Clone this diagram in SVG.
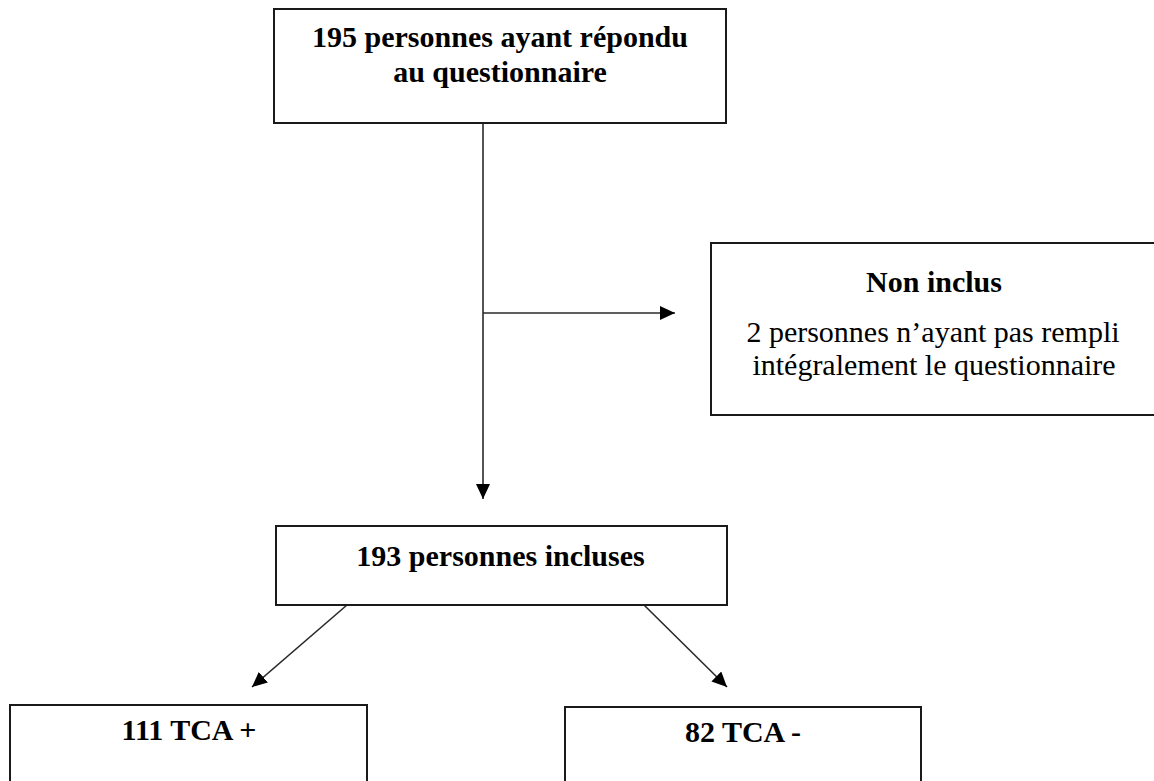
<svg xmlns="http://www.w3.org/2000/svg" width="1154" height="781" viewBox="0 0 1154 781">
  <style>
    .box { fill: #ffffff; stroke: #1a1a1a; stroke-width: 2; }
    .t { font-family: "Liberation Serif", "Times New Roman", serif; font-size: 30px; fill: #000000; text-anchor: middle; }
    .b { font-weight: bold; }
    .conn { stroke: #2a2a2a; stroke-width: 1.6; fill: none; }
  </style>
  <defs>
    <marker id="arrow" markerUnits="userSpaceOnUse" markerWidth="16" markerHeight="14" refX="15" refY="7" orient="auto">
      <path d="M0,0 L15,7 L0,14 Z" fill="#000000"/>
    </marker>
  </defs>
  <rect width="1154" height="781" fill="#ffffff"/>

  <g id="connectors">
    <line class="conn" x1="483" y1="123" x2="483" y2="499" marker-end="url(#arrow)"/>
    <line class="conn" x1="483" y1="313" x2="675" y2="313" marker-end="url(#arrow)"/>
    <line class="conn" x1="347" y1="605" x2="252" y2="687" marker-end="url(#arrow)"/>
    <line class="conn" x1="644" y1="605" x2="727" y2="687" marker-end="url(#arrow)"/>
  </g>

  <g id="node-repondants">
    <rect class="box" x="274" y="9" width="452" height="114"/>
    <text class="t b" x="500" y="47">195 personnes ayant répondu</text>
    <text class="t b" x="500" y="82">au questionnaire</text>
  </g>

  <g id="node-non-inclus">
    <rect class="box" x="711" y="243" width="446" height="172"/>
    <text class="t b" x="934" y="292">Non inclus</text>
    <text class="t" x="933" y="342">2 personnes n’ayant pas rempli</text>
    <text class="t" x="934" y="375">intégralement le questionnaire</text>
  </g>

  <g id="node-inclus">
    <rect class="box" x="276" y="526" width="451" height="79"/>
    <text class="t b" x="500.5" y="566">193 personnes incluses</text>
  </g>

  <g id="node-tca-plus">
    <rect class="box" x="10" y="705" width="357" height="90"/>
    <text class="t b" x="189" y="740">111 TCA +</text>
  </g>

  <g id="node-tca-moins">
    <rect class="box" x="565" y="707" width="356" height="90"/>
    <text class="t b" x="743" y="742">82 TCA -</text>
  </g>
</svg>
